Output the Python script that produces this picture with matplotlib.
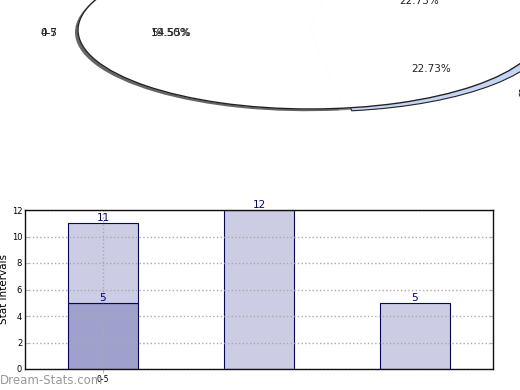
import matplotlib
matplotlib.use("Agg")
import matplotlib.pyplot as plt
import numpy as np

# ---- data ----
pie_values = [5, 12, 5]
pie_labels = ["", "0-5", "8"]
pie_labels_overlap = ["", "4-7", ""]
pie_pcts = ["22.73%", "54.55%", "22.73%"]
pie_pcts_overlap = ["", "19.50%", ""]

bar_positions = [0.5, 1.5, 2.5]
bar_base = [5, 0, 0]
bar_top = [6, 12, 5]
bar_top_labels = ["11", "12", "5"]
bar_base_labels = ["5", "", ""]
xtick_labels = ["0-5"]
yticks = [0, 2, 4, 6, 8, 10, 12]

# label placement (style)
pct_dist = [0.62, 0.6, 0.69]
lab_dist = [1.1, 1.09, 1.18]

fig = plt.figure(figsize=(5.2, 3.9), dpi=100)

# ---- pie (ellipse, mostly cut off at top) ----
axp = fig.add_axes([78/520, (390-109)/390, 464/520, 158/390])
axp.axis('off')
# gray shadow
axp.pie(pie_values, startangle=0, radius=1, center=(-0.013, -0.028),
        colors=["#8a8a8a", "#666666", "#8a8a8a"],
        wedgeprops=dict(linewidth=0), frame=False)
# blue slice, exploded, peeking out below
axp.pie(pie_values, startangle=0, radius=1, center=(0.0, 0.0),
        explode=[0, 0, 0.05],
        colors=["#c6d5f5", "#c6d5f5", "#c6d5f5"],
        wedgeprops=dict(linewidth=0.8, edgecolor="#222222"), frame=False)
w_blue = axp.patches[-3:]
w_blue[0].set_visible(False)
w_blue[1].set_visible(False)
# white top pie
wedges, _ = axp.pie(
    pie_values, startangle=0, radius=1,
    colors=["white", "white", "white"],
    wedgeprops=dict(linewidth=0.6, edgecolor="white"), frame=False)
# outline
axp.pie([sum(pie_values)], startangle=0, radius=1, colors=["none"],
        wedgeprops=dict(linewidth=1.0, edgecolor="#222222", fill=False), frame=False)
tot = sum(pie_values)
cum = 0
for i, v in enumerate(pie_values):
    mid = np.deg2rad((cum + v / 2) / tot * 360)
    cum += v
    c, s = np.cos(mid), np.sin(mid)
    x, y = pct_dist[i] * c, pct_dist[i] * s - 0.04
    axp.text(x, y, pie_pcts[i], ha='center', va='center', fontsize=7.5, color="#222222")
    if pie_pcts_overlap[i]:
        axp.text(x, y, pie_pcts_overlap[i], ha='center', va='center', fontsize=7.5, color="#222222")
    lx, ly = lab_dist[i] * c, lab_dist[i] * s - 0.04
    ha = 'right' if c < 0 else 'left'
    if pie_labels[i]:
        axp.text(lx, ly, pie_labels[i], ha=ha, va='center', fontsize=7.5, color="#222222")
    if pie_labels_overlap[i]:
        axp.text(lx, ly, pie_labels_overlap[i], ha=ha, va='center', fontsize=7.5, color="#222222")
axp.set_aspect('auto')
axp.set_xlim(-1, 1)
axp.set_ylim(-1, 1)

# ---- bar chart ----
ax = fig.add_axes([25/520, (390-369)/390, 468/520, 159/390])
width = 0.45
ax.bar(bar_positions, bar_base, width=width, color="#a0a0cc", edgecolor="#000080", linewidth=0.8, zorder=2)
ax.bar(bar_positions, bar_top, width=width, bottom=bar_base, color="#ccccE4", edgecolor="#000080", linewidth=0.8, zorder=2)
for x, b, t, lt, lb in zip(bar_positions, bar_base, bar_top, bar_top_labels, bar_base_labels):
    ax.text(x, b + t, lt, ha='center', va='bottom', fontsize=7.5, color="#000080", zorder=4)
    if lb:
        ax.text(x, b, lb, ha='center', va='bottom', fontsize=7.5, color="#000080", zorder=4)
ax.set_xlim(0, 3)
ax.set_ylim(0, 12)
ax.set_yticks(yticks)
ax.set_xticks(bar_positions[:1])
ax.set_xticklabels(xtick_labels, fontsize=5.5)
ax.tick_params(axis='y', labelsize=6, length=3, color="#bbbbbb", right=True, direction='in', pad=2)
ax.tick_params(axis='x', length=3, color="#bbbbbb", pad=1)
ax.grid(True, axis='both', linestyle=':', color="#aaaaaa", linewidth=1, zorder=3)
ax.set_axisbelow(False)
ax.set_ylabel("Stat Intervals", fontsize=7.5, labelpad=2)
ax.set_xlabel("Frequency", fontsize=8, labelpad=8)
for s in ax.spines.values():
    s.set_color("#111111")
    s.set_linewidth(1)
    s.set_zorder(5)

fig.text(0.0, 1 - 381/390, "Dream-Stats.com", fontsize=8.5, color="#999999", va='center', ha='left')

fig.savefig("out.png", dpi=100)
